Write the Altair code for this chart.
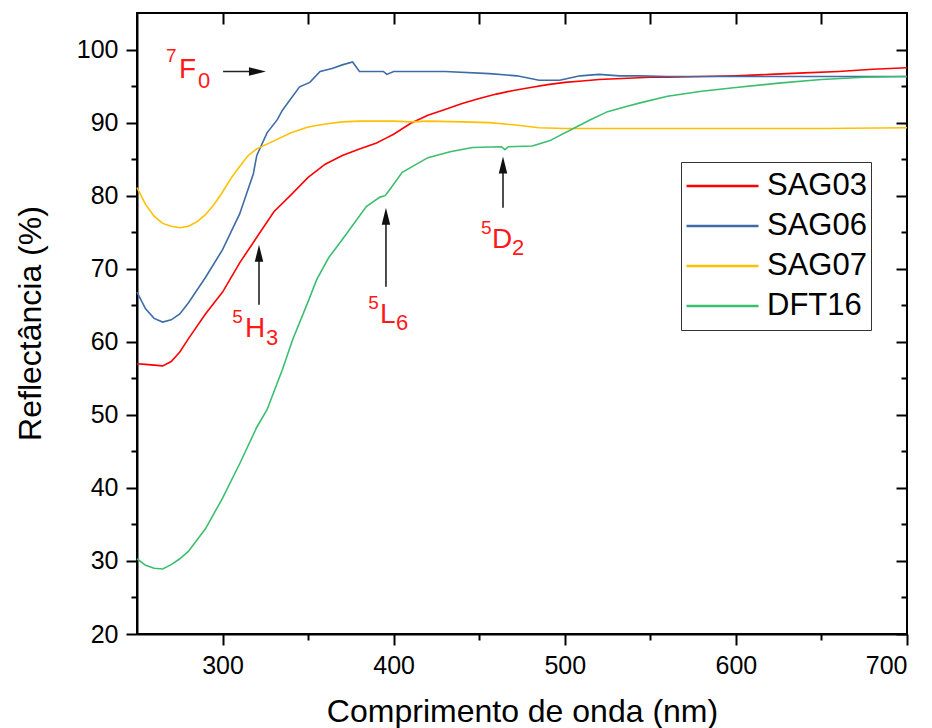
import altair as alt
import pandas as pd

FONT = "Liberation Sans"

series_names = ["SAG03", "SAG06", "SAG07", "DFT16"]
series_colors = ["#FF0000", "#3E6CA6", "#FFC000", "#3CBE6E"]

sag03_wl = [250, 255, 260, 265, 270, 275, 280, 290, 300, 310, 320, 330, 340, 350, 360, 370, 380,
            390, 395, 400, 410, 420, 430, 440, 450, 460, 470, 480, 490, 500, 510, 520, 530, 540,
            550, 560, 580, 600, 620, 640, 660, 680, 700]
sag03_r = [57.0, 56.9, 56.8, 56.7, 57.3, 58.6, 60.4, 63.8, 66.8, 70.8, 74.3, 77.8, 80.1, 82.5,
           84.3, 85.5, 86.4, 87.2, 87.8, 88.4, 89.9, 91.0, 91.8, 92.6, 93.3, 93.9, 94.4, 94.8,
           95.2, 95.5, 95.7, 95.9, 96.0, 96.1, 96.2, 96.2, 96.3, 96.4, 96.6, 96.8, 97.0, 97.3, 97.5]

sag06_wl = [250, 255, 260, 265, 270, 275, 280, 290, 300, 310, 318, 320, 326, 332, 335, 345, 351,
            357, 364, 370, 376, 380, 390, 394, 396, 400, 430, 456, 472, 485, 497, 509, 520, 532,
            544, 560, 600, 650, 700]
sag06_r = [66.8, 64.5, 63.2, 62.7, 63.0, 63.8, 65.3, 68.8, 72.6, 77.5, 83.0, 85.5, 88.6, 90.4,
           91.7, 94.9, 95.5, 97.0, 97.4, 97.9, 98.3, 97.0, 97.0, 97.0, 96.6, 97.0, 97.0, 96.7,
           96.4, 95.8, 95.8, 96.4, 96.6, 96.4, 96.4, 96.3, 96.3, 96.3, 96.3]

sag07_wl = [250, 255, 260, 265, 270, 275, 280, 285, 290, 295, 300, 305, 310, 315, 320, 330, 340,
            350, 360, 370, 380, 390, 400, 410, 420, 440, 456, 470, 485, 500, 520, 544, 600, 650, 700]
sag07_r = [81.1, 78.8, 77.2, 76.2, 75.8, 75.6, 75.8, 76.4, 77.4, 78.8, 80.5, 82.4, 84.0, 85.5,
           86.4, 87.5, 88.6, 89.4, 89.8, 90.1, 90.2, 90.2, 90.2, 90.1, 90.2, 90.1, 90.0, 89.7,
           89.3, 89.2, 89.2, 89.2, 89.2, 89.2, 89.3]

dft16_wl = [250, 255, 260, 265, 270, 275, 280, 290, 300, 310, 320, 326, 335, 341, 350, 355, 362,
            370, 384, 392, 395, 397, 405, 420, 433, 446, 463, 465, 467, 481, 491, 505, 515, 525,
            536, 544, 560, 580, 600, 625, 650, 675, 700]
dft16_r = [30.3, 29.4, 29.0, 28.9, 29.5, 30.3, 31.3, 34.4, 38.6, 43.3, 48.3, 50.7, 56.2, 60.3,
           65.5, 68.5, 71.5, 74.0, 78.5, 79.8, 80.0, 80.6, 83.2, 85.2, 86.0, 86.6, 86.7, 86.3,
           86.7, 86.8, 87.5, 89.2, 90.4, 91.5, 92.2, 92.7, 93.6, 94.3, 94.8, 95.4, 95.9, 96.2, 96.3]

# tick values
x_major = [300, 400, 500, 600, 700]
x_minor = [350, 450, 550, 650]
x_top = [300, 350, 400, 450, 500, 550, 600, 650]
y_major = [20, 30, 40, 50, 60, 70, 80, 90, 100]
y_minor = [25, 35, 45, 55, 65, 75, 85, 95]

# annotations (data coordinates)
ann_main_text = ["F", "H", "L", "D"]
ann_main_x = [274.5, 313.1, 392.0, 457.5]
ann_main_y = [96.16, 60.68, 62.60, 72.88]
ann_sup_text = ["7", "5", "5", "5"]
ann_sup_x = [267.0, 305.6, 385.1, 451.1]
ann_sup_y = [98.36, 62.60, 64.52, 74.79]
ann_sub_text = ["0", "3", "6", "2"]
ann_sub_x = [285.7, 325.4, 401.4, 469.2]
ann_sub_y = [94.79, 59.59, 61.64, 71.92]

arrow_x1 = [300.3, 321.3, 395.5, 463.9]
arrow_x2 = [320.4, 321.3, 395.5, 463.9]
arrow_y1 = [96.99, 65.07, 67.53, 78.36]
arrow_y2 = [96.99, 72.12, 77.19, 84.18]
arrow_angle = [90, 0, 0, 0]

rows = []
for name, wl, rr in zip(series_names, [sag03_wl, sag06_wl, sag07_wl, dft16_wl],
                        [sag03_r, sag06_r, sag07_r, dft16_r]):
    for a, b in zip(wl, rr):
        rows.append({"series": name, "wl": a, "r": b})
df = pd.DataFrame(rows)

arrows = pd.DataFrame({"x": arrow_x1, "x2": arrow_x2, "y": arrow_y1, "y2": arrow_y2,
                       "angle": arrow_angle})
sup_df = pd.DataFrame({"t": ann_sup_text, "x": ann_sup_x, "y": ann_sup_y})
main_df = pd.DataFrame({"t": ann_main_text, "x": ann_main_x, "y": ann_main_y})
sub_df = pd.DataFrame({"t": ann_sub_text, "x": ann_sub_x, "y": ann_sub_y})

xs = alt.Scale(domain=[250, 700], nice=False, zero=False)
ys = alt.Scale(domain=[20, 105], nice=False, zero=False)

tick_common = dict(tickColor="black", tickWidth=2, grid=False)

lines = alt.Chart(df).mark_line(strokeWidth=1.6).encode(
    x=alt.X("wl:Q", scale=xs, axis=alt.Axis(
        orient="bottom", values=x_major, tickSize=11, domainColor="black", domainWidth=2,
        labelFont=FONT, labelFontSize=25, labelColor="black", labelPadding=8, format="d",
        title="Comprimento de onda (nm)", titleFont=FONT, titleFontSize=32,
        titleFontWeight="normal", titleColor="black", titleY=87, titleBaseline="alphabetic",
        **tick_common)),
    y=alt.Y("r:Q", scale=ys, axis=alt.Axis(
        orient="left", values=y_major, tickSize=11, domainColor="black", domainWidth=2,
        labelFont=FONT, labelFontSize=25, labelColor="black", labelPadding=8, format="d",
        title="Reflectância (%)", titleFont=FONT, titleFontSize=32, titleFontWeight="normal",
        titleColor="black", titleX=-97, titleY=310, titleBaseline="alphabetic",
        **tick_common)),
    color=alt.Color("series:N", sort=series_names,
                    scale=alt.Scale(domain=series_names, range=series_colors),
                    legend=alt.Legend(
                        title=None, orient="none", legendX=544, legendY=149,
                        symbolType="stroke", symbolSize=5184, symbolStrokeWidth=2.5,
                        clipHeight=40, labelFont=FONT, labelFontSize=31, labelColor="black",
                        labelOffset=7, padding=4, strokeColor="#333333", rowPadding=0,
                        symbolOffset=0, labelLimit=300)),
    detail="series:N",
)

minor = alt.Chart(df).mark_point(opacity=0).encode(
    x=alt.X("wl:Q", scale=xs, axis=alt.Axis(
        orient="bottom", values=x_minor, tickSize=6, labels=False, domain=False, title=None,
        **tick_common)),
    y=alt.Y("r:Q", scale=ys, axis=alt.Axis(
        orient="left", values=y_minor, tickSize=6, labels=False, domain=False, title=None,
        **tick_common)),
)

mirror = alt.Chart(df).mark_point(opacity=0).encode(
    x=alt.X("wl:Q", scale=xs, axis=alt.Axis(
        orient="top", values=x_top, tickSize=11, offset=-11, labels=False, domain=False,
        title=None, **tick_common)),
    y=alt.Y("r:Q", scale=ys, axis=alt.Axis(
        orient="right", values=y_major, tickSize=11, offset=-11, labels=False, domain=False,
        title=None, **tick_common)),
)

mirror_minor = alt.Chart(df).mark_point(opacity=0).encode(
    x=alt.X("wl:Q", scale=xs, axis=None),
    y=alt.Y("r:Q", scale=ys, axis=alt.Axis(
        orient="right", values=y_minor, tickSize=6, offset=-6, labels=False, domain=False,
        title=None, **tick_common)),
)

arrow_lines = alt.Chart(arrows).mark_rule(color="#222222", strokeWidth=1.6).encode(
    x=alt.X("x:Q", scale=xs, axis=None), x2="x2:Q",
    y=alt.Y("y:Q", scale=ys, axis=None), y2="y2:Q",
)

arrow_heads = alt.Chart(arrows).mark_point(
    shape="M0,-1L0.5,1L-0.5,1Z", filled=True, size=289, color="#111111", opacity=1,
    strokeWidth=0,
).encode(
    x=alt.X("x2:Q", scale=xs, axis=None),
    y=alt.Y("y2:Q", scale=ys, axis=None),
    angle=alt.Angle("angle:Q", scale=None),
)

ann_color = "#FF1A1A"

def ann_layer(d, size):
    return alt.Chart(d).mark_text(
        align="left", baseline="alphabetic", font=FONT, fontSize=size, color=ann_color
    ).encode(
        x=alt.X("x:Q", scale=xs, axis=None),
        y=alt.Y("y:Q", scale=ys, axis=None),
        text="t:N",
    )

chart = alt.layer(
    lines, minor, mirror, mirror_minor, arrow_lines, arrow_heads,
    ann_layer(sup_df, 19), ann_layer(main_df, 28), ann_layer(sub_df, 22),
).resolve_axis(
    x="independent", y="independent"
).properties(
    width=770, height=621,
    autosize=alt.AutoSizeParams(type="none"),
    padding={"left": 137, "top": 13, "right": 25, "bottom": 94},
    background="white",
).configure_view(
    stroke="black", strokeWidth=2
)

chart.save("out.html", embed_options={"renderer": "svg", "actions": False})
